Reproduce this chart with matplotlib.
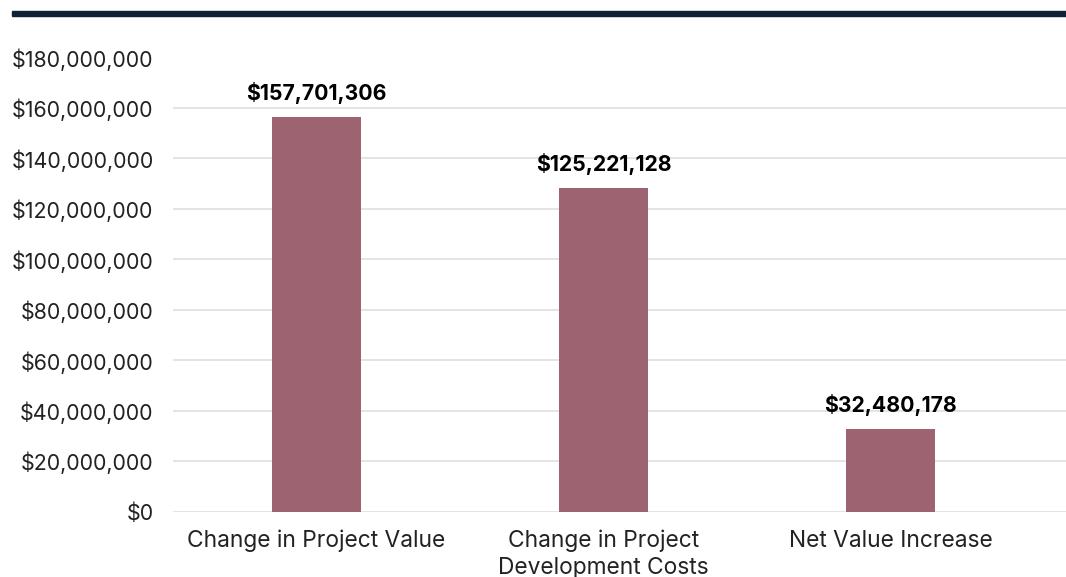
import matplotlib.pyplot as plt
from matplotlib.patches import Rectangle
from matplotlib.ticker import FuncFormatter

plt.rcParams['font.family'] = ['Inter', 'DejaVu Sans']

categories = ['Change in Project Value', 'Change in Project\nDevelopment Costs', 'Net Value Increase']
values = [156_500_000, 128_400_000, 32_800_000]
value_labels = ['$157,701,306', '$125,221,128', '$32,480,178']
y_ticks = list(range(0, 180_000_001, 20_000_000))

bar_color = '#9e6370'
grid_color = '#e4e4e4'

fig = plt.figure(figsize=(10.66, 5.77), dpi=100)
ax = fig.add_axes([173 / 1066, 65.3 / 577, 893 / 1066, 454.2 / 577])

x = range(len(categories))
ax.bar(x, values, width=0.31, color=bar_color, zorder=3)

for i, (v, lab) in enumerate(zip(values, value_labels)):
    ax.annotate(lab, (i, v), xytext=(0, 9), textcoords='offset points',
                ha='center', va='bottom', fontsize=15.3, fontweight='bold', color='black')

ax.set_xlim(-0.5, 2.61)
ax.set_ylim(0, 180_000_000)
ax.set_yticks(y_ticks)
ax.yaxis.set_major_formatter(FuncFormatter(lambda v, p: f'${v:,.0f}'))
ax.set_xticks(list(x))
ax.set_xticklabels(categories, linespacing=1.3)

ax.tick_params(axis='y', length=0, labelsize=15.4, labelcolor='#222222', pad=14)
ax.tick_params(axis='x', length=0, labelsize=16.4, labelcolor='#222222', pad=13)
ax.grid(axis='y', color=grid_color, linewidth=1.4, zorder=0)
for s in ax.spines.values():
    s.set_visible(False)

# dark rule across the top
fig.patches.append(Rectangle((12 / 1066, 1 - 16 / 577), 1, 5 / 577,
                             transform=fig.transFigure, color='#0f2236', zorder=5))

fig.savefig('out.png', dpi=100)
